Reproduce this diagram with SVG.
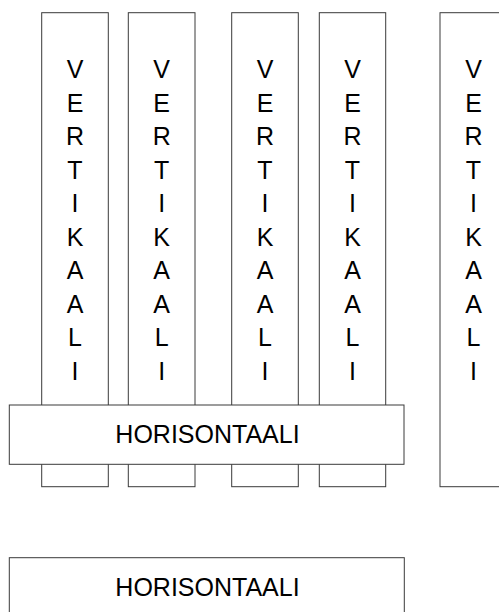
<svg xmlns="http://www.w3.org/2000/svg" width="499" height="612" viewBox="0 0 499 612">
<style>
.box{fill:#fff;stroke:#3a3a3a;stroke-width:1}
.t{font-family:"Liberation Sans",Arial,sans-serif;font-size:25px;fill:#000;text-anchor:middle}
</style>
<rect width="499" height="612" fill="#fff"/>
<g id="v1"><rect class="box" x="41.7" y="12.7" width="66.6" height="474"/>
<text class="t"><tspan x="75" y="78">V</tspan><tspan x="75" dy="33.5">E</tspan><tspan x="75" dy="33.5">R</tspan><tspan x="75" dy="33.5">T</tspan><tspan x="75" dy="33.5">I</tspan><tspan x="75" dy="33.5">K</tspan><tspan x="75" dy="33.5">A</tspan><tspan x="75" dy="33.5">A</tspan><tspan x="75" dy="33.5">L</tspan><tspan x="75" dy="33.5">I</tspan></text></g>
<g id="v2"><rect class="box" x="128.3" y="12.7" width="66.7" height="474"/>
<text class="t"><tspan x="161.7" y="78">V</tspan><tspan x="161.7" dy="33.5">E</tspan><tspan x="161.7" dy="33.5">R</tspan><tspan x="161.7" dy="33.5">T</tspan><tspan x="161.7" dy="33.5">I</tspan><tspan x="161.7" dy="33.5">K</tspan><tspan x="161.7" dy="33.5">A</tspan><tspan x="161.7" dy="33.5">A</tspan><tspan x="161.7" dy="33.5">L</tspan><tspan x="161.7" dy="33.5">I</tspan></text></g>
<g id="v3"><rect class="box" x="231.7" y="12.7" width="66.6" height="474"/>
<text class="t"><tspan x="265" y="78">V</tspan><tspan x="265" dy="33.5">E</tspan><tspan x="265" dy="33.5">R</tspan><tspan x="265" dy="33.5">T</tspan><tspan x="265" dy="33.5">I</tspan><tspan x="265" dy="33.5">K</tspan><tspan x="265" dy="33.5">A</tspan><tspan x="265" dy="33.5">A</tspan><tspan x="265" dy="33.5">L</tspan><tspan x="265" dy="33.5">I</tspan></text></g>
<g id="v4"><rect class="box" x="319.3" y="12.7" width="66.4" height="474"/>
<text class="t"><tspan x="352.5" y="78">V</tspan><tspan x="352.5" dy="33.5">E</tspan><tspan x="352.5" dy="33.5">R</tspan><tspan x="352.5" dy="33.5">T</tspan><tspan x="352.5" dy="33.5">I</tspan><tspan x="352.5" dy="33.5">K</tspan><tspan x="352.5" dy="33.5">A</tspan><tspan x="352.5" dy="33.5">A</tspan><tspan x="352.5" dy="33.5">L</tspan><tspan x="352.5" dy="33.5">I</tspan></text></g>
<g id="v5"><rect class="box" x="440" y="12.7" width="66.6" height="474"/>
<text class="t"><tspan x="473.5" y="78">V</tspan><tspan x="473.5" dy="33.5">E</tspan><tspan x="473.5" dy="33.5">R</tspan><tspan x="473.5" dy="33.5">T</tspan><tspan x="473.5" dy="33.5">I</tspan><tspan x="473.5" dy="33.5">K</tspan><tspan x="473.5" dy="33.5">A</tspan><tspan x="473.5" dy="33.5">A</tspan><tspan x="473.5" dy="33.5">L</tspan><tspan x="473.5" dy="33.5">I</tspan></text></g>
<g id="h1"><rect class="box" x="9.3" y="405" width="394.7" height="59.3"/>
<text class="t" x="207.5" y="443.3">HORISONTAALI</text></g>
<g id="h2"><rect class="box" x="9.3" y="557.7" width="395" height="59.3"/>
<text class="t" x="207.5" y="595.7">HORISONTAALI</text></g>
<g id="connectors"/>
</svg>
